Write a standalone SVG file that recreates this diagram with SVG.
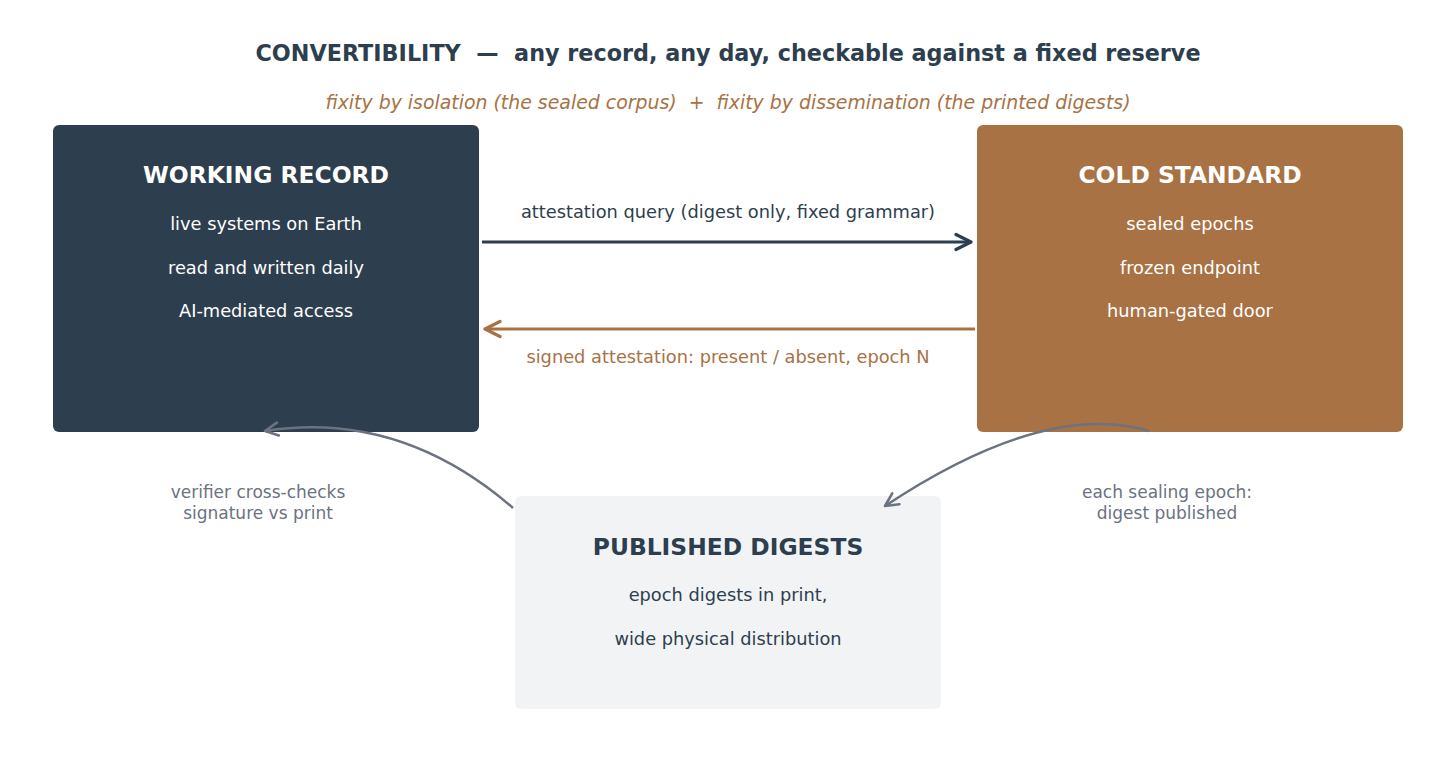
<svg xmlns="http://www.w3.org/2000/svg" width="1456" height="768" viewBox="0 0 1456 768">
<style>
text{font-family:"DejaVu Sans","Liberation Sans",sans-serif;text-anchor:middle;white-space:pre}
.title{font-size:22.3px;font-weight:bold;fill:#2d3e4e}
.sub{font-size:18.9px;font-style:italic;fill:#a87244}
.h{font-size:23.4px;font-weight:bold;fill:#ffffff}
.b{font-size:17.8px;fill:#ffffff}
.hd{font-size:23.4px;font-weight:bold;fill:#2d3e4e}
.bd{font-size:17.8px;fill:#2d3e4e}
.lbl{font-size:17.8px}
.note{font-size:17px;fill:#6b7280}
</style>
<defs>
<marker id="ad" viewBox="0 0 20 20" refX="18" refY="10" markerWidth="20" markerHeight="20" markerUnits="userSpaceOnUse" orient="auto"><path d="M3,2.5 L18,10 L3,17.5" fill="none" stroke="#2d3e4e" stroke-width="3.2" stroke-linecap="round" stroke-linejoin="round"/></marker>
<marker id="ab" viewBox="0 0 20 20" refX="18" refY="10" markerWidth="20" markerHeight="20" markerUnits="userSpaceOnUse" orient="auto"><path d="M3,2.5 L18,10 L3,17.5" fill="none" stroke="#a87244" stroke-width="3.2" stroke-linecap="round" stroke-linejoin="round"/></marker>
<marker id="ag" viewBox="0 0 20 20" refX="18" refY="10" markerWidth="20" markerHeight="20" markerUnits="userSpaceOnUse" orient="auto"><path d="M5,3.5 L18,10 L5,16.5" fill="none" stroke="#6b7280" stroke-width="2.6" stroke-linecap="round" stroke-linejoin="round"/></marker>
</defs>
<rect width="1456" height="768" fill="#ffffff"/>
<text class="title" x="728" y="61" xml:space="preserve">CONVERTIBILITY  —  any record, any day, checkable against a fixed reserve</text>
<text class="sub" x="728" y="109" xml:space="preserve">fixity by isolation (the sealed corpus)  +  fixity by dissemination (the printed digests)</text>

<g id="working-record">
<rect x="53" y="125" width="426" height="307" rx="6" fill="#2d3e4e"/>
<text class="h" x="266" y="183">WORKING RECORD</text>
<text class="b" x="266" y="230">live systems on Earth</text>
<text class="b" x="266" y="274">read and written daily</text>
<text class="b" x="266" y="317">AI-mediated access</text>
</g>

<g id="cold-standard">
<rect x="977" y="125" width="426" height="307" rx="6" fill="#a87244"/>
<text class="h" x="1190" y="183">COLD STANDARD</text>
<text class="b" x="1190" y="230">sealed epochs</text>
<text class="b" x="1190" y="274">frozen endpoint</text>
<text class="b" x="1190" y="317">human-gated door</text>
</g>

<g id="published-digests">
<rect x="515" y="496" width="426" height="213" rx="6" fill="#f2f3f5"/>
<text class="hd" x="728" y="555">PUBLISHED DIGESTS</text>
<text class="bd" x="728" y="601">epoch digests in print,</text>
<text class="bd" x="728" y="645">wide physical distribution</text>
</g>

<g id="connectors" fill="none">
<path d="M482,242 L971,242" stroke="#2d3e4e" stroke-width="3" marker-end="url(#ad)"/>
<path d="M975,329 L485,329" stroke="#a87244" stroke-width="3" marker-end="url(#ab)"/>
<path d="M513,508 Q400,410 265,431" stroke="#6b7280" stroke-width="2.5" marker-end="url(#ag)"/>
<path d="M1149,431 Q1045,400 885,506" stroke="#6b7280" stroke-width="2.5" marker-end="url(#ag)"/>
</g>

<g id="labels">
<text class="lbl" x="728" y="218" fill="#2d3e4e">attestation query (digest only, fixed grammar)</text>
<text class="lbl" x="728" y="363" fill="#a87244">signed attestation: present / absent, epoch N</text>
<text class="note" x="258" y="498">verifier cross-checks</text>
<text class="note" x="258" y="519">signature vs print</text>
<text class="note" x="1167" y="498">each sealing epoch:</text>
<text class="note" x="1167" y="519">digest published</text>
</g>
</svg>
